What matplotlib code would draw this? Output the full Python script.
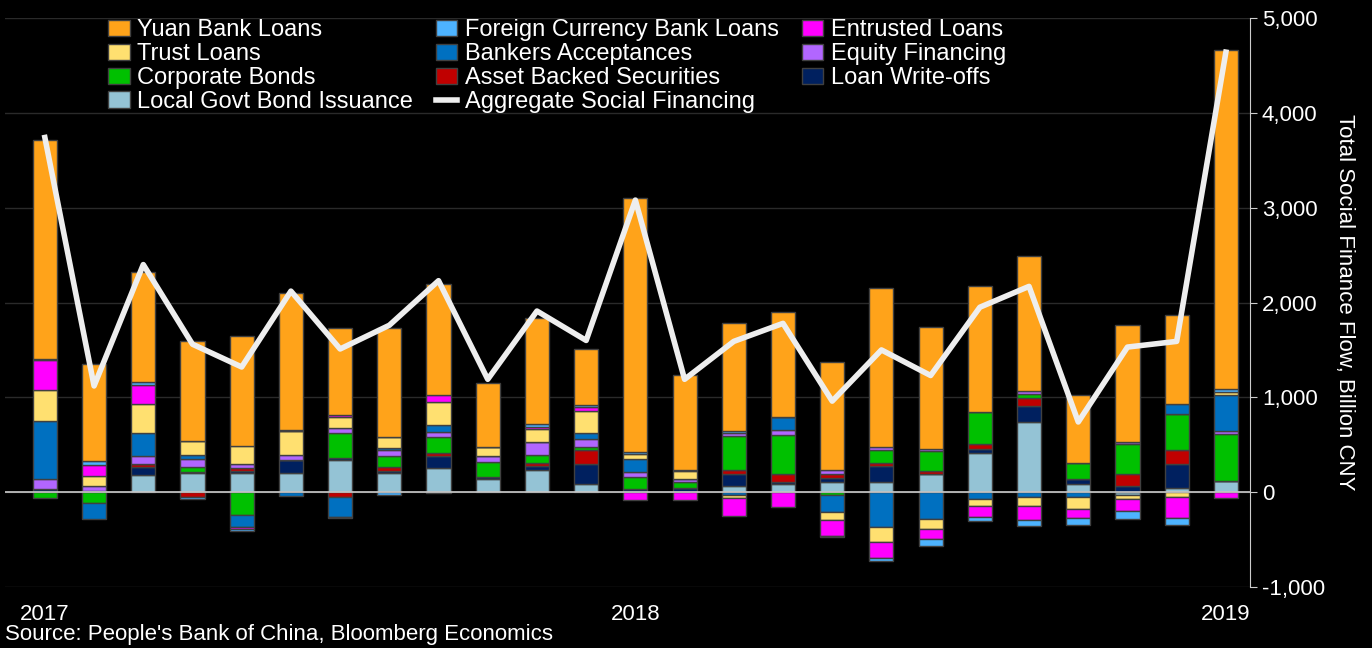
import matplotlib
matplotlib.use("Agg")
import matplotlib.pyplot as plt
import numpy as np

plt.rcParams['font.family'] = ['Liberation Sans', 'DejaVu Sans']

months = ["2017-01","2017-02","2017-03","2017-04","2017-05","2017-06","2017-07","2017-08","2017-09","2017-10","2017-11","2017-12",
          "2018-01","2018-02","2018-03","2018-04","2018-05","2018-06","2018-07","2018-08","2018-09","2018-10","2018-11","2018-12","2019-01"]
local_govt = [0,0,180,200,200,200,341,200,250,137,229,84,0,0,70,84,106,106,194,412,739,84,-25,42,113]
write_offs = [30,15,88,14,18,140,18,18,127,28,42,211,32,42,120,18,42,169,0,42,169,56,70,253,0]
abs_sec    = [0,0,25,-53,35,0,-53,49,35,0,35,148,0,0,46,88,42,35,32,53,88,0,123,148,0]
corp_bonds = [-60,-115,0,56,-240,0,264,113,169,148,84,32,127,60,352,412,-28,137,211,338,39,165,317,380,500]
equity     = [110,50,88,77,42,50,53,63,53,67,137,84,53,35,35,53,46,25,21,0,32,0,21,0,32]
bankers    = [610,-170,243,42,-130,-39,-204,21,74,0,0,63,137,0,-35,137,-183,-363,-278,-74,-53,-46,0,106,384]
trust      = [330,105,306,148,190,260,116,116,239,99,137,232,49,81,-28,0,-84,-165,-113,-74,-95,-127,-46,-53,25]
entrusted  = [310,120,200,0,-21,0,18,0,77,0,25,49,-84,-84,-187,-158,-162,-162,-99,-116,-141,-95,-130,-222,-63]
foreign    = [15,40,28,-21,-14,7,-14,-35,-10,0,25,21,21,14,21,0,-21,-32,-77,-39,-67,-77,-81,-70,35]
yuan       = [2310,1025,1162,1061,1164,1442,920,1149,1176,671,1125,584,2681,1008,1136,1108,1134,1678,1282,1325,1423,724,1228,941,3572]
agg_sf     = [3740,1120,2400,1560,1320,2120,1510,1760,2230,1190,1910,1600,3080,1190,1590,1780,960,1500,1230,1950,2170,740,1530,1590,4640]

series = [
    ("Local Govt Bond Issuance", local_govt, "#94C3D5"),
    ("Loan Write-offs", write_offs, "#00205F"),
    ("Asset Backed Securities", abs_sec, "#C00000"),
    ("Corporate Bonds", corp_bonds, "#00C000"),
    ("Equity Financing", equity, "#B266FF"),
    ("Bankers Acceptances", bankers, "#0070C0"),
    ("Trust Loans", trust, "#FFE070"),
    ("Entrusted Loans", entrusted, "#FF00FF"),
    ("Foreign Currency Bank Loans", foreign, "#4DB3FF"),
    ("Yuan Bank Loans", yuan, "#FFA31A"),
]

fig = plt.figure(figsize=(13.72, 6.48), dpi=100, facecolor="black")
ax = fig.add_axes([5/1372, 61/648, 1245/1372, 569/648], facecolor="black")
x = np.arange(len(months))
pos = np.zeros(len(x)); neg = np.zeros(len(x))
handles = {}
for name, vals, col in series:
    v = np.array(vals, float)
    bottom = np.where(v >= 0, pos, neg)
    b = ax.bar(x, v, 0.49, bottom=bottom, color=col, edgecolor="#404040", linewidth=1, zorder=3)
    handles[name] = b
    pos = pos + np.where(v > 0, v, 0)
    neg = neg + np.where(v < 0, v, 0)
line, = ax.plot(x, agg_sf, color="#EEEEEE", lw=4, zorder=4)
handles["Aggregate Social Financing"] = line

ax.set_xlim(-0.81, 24.49)
ax.set_ylim(-1000, 5000)
ax.set_yticks(range(-1000, 5001, 1000))
ax.yaxis.tick_right()
ax.yaxis.set_label_position("right")
ax.set_yticklabels([f"{t:,}" for t in range(-1000, 5001, 1000)], color="white", fontsize=16)
ax.set_ylabel("Total Social Finance Flow, Billion CNY", color="white", fontsize=16, rotation=270, labelpad=22)
ax.grid(axis="y", color="#2A2A2A", lw=1, zorder=0)
ax.axhline(0, color="#CCCCCC", lw=1.2, zorder=5)
for s in ["top", "left", "bottom"]:
    ax.spines[s].set_visible(False)
ax.spines["right"].set_color("#CCCCCC")
ax.tick_params(axis="y", colors="#CCCCCC", labelcolor="white", length=5)
ax.set_xticks([0, 12, 24])
ax.set_xticklabels(["2017", "2018", "2019"], color="white", fontsize=16)
ax.tick_params(axis="x", length=0, pad=12)

order = ["Yuan Bank Loans", "Trust Loans", "Corporate Bonds", "Local Govt Bond Issuance",
         "Foreign Currency Bank Loans", "Bankers Acceptances", "Asset Backed Securities", "Aggregate Social Financing",
         "Entrusted Loans", "Equity Financing", "Loan Write-offs"]
leg = ax.legend([handles[n] for n in order], order, ncol=3, loc="upper left", bbox_to_anchor=(0.066, 1.035),
                frameon=False, fontsize=17, labelcolor="white", handlelength=0.9, handleheight=0.7,
                handletextpad=0.3, columnspacing=1.0, labelspacing=0.08)
fig.text(5/1372, 3/648, "Source: People's Bank of China, Bloomberg Economics", color="white", fontsize=16, va="bottom")
fig.savefig("out.png", facecolor="black")
